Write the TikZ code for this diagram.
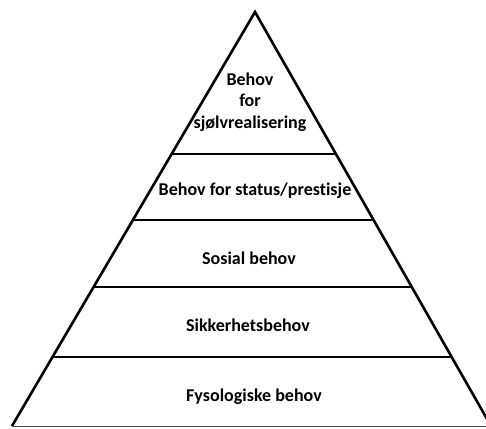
\documentclass[tikz,border=0pt]{standalone}
\usepackage{fontspec}
\setmainfont{Carlito}[Ligatures={NoCommon}]
\usetikzlibrary{calc}
\tikzset{niva/.style={font=\fontsize{18}{21.5}\selectfont\bfseries, align=center}}
\tikzset{kant/.style={line width=2.6pt}}

\begin{document}
\begin{tikzpicture}[x=1pt,y=1pt]
  \useasboundingbox (0,0) rectangle (486,428);
  \clip (0,0) rectangle (486,428);
  \coordinate (T) at (255,416);
  \coordinate (L) at (12,2);
  \coordinate (R) at (491,2);
  \draw[kant, line join=miter] (L) -- (T) -- (R);
  \draw[line width=1pt, black!70] (L) -- (R);
  % skillelinjer
  \foreach \t in {0.1667,0.3357,0.4976,0.657}
    \draw[kant] ($(L)!\t!(T)$) -- ($(R)!\t!(T)$);
  \node[niva] (selv) at (250,326) {Behov\\for\\sjølvrealisering};
  \node[niva] (status) at (255,237) {Behov for status/prestisje};
  \node[niva] (sosial) at (249,170) {Sosial behov};
  \node[niva] (sikker) at (248,103) {Sikkerhetsbehov};
  \node[niva] (fysio) at (254,31) {Fysologiske behov};
\end{tikzpicture}
\end{document}
